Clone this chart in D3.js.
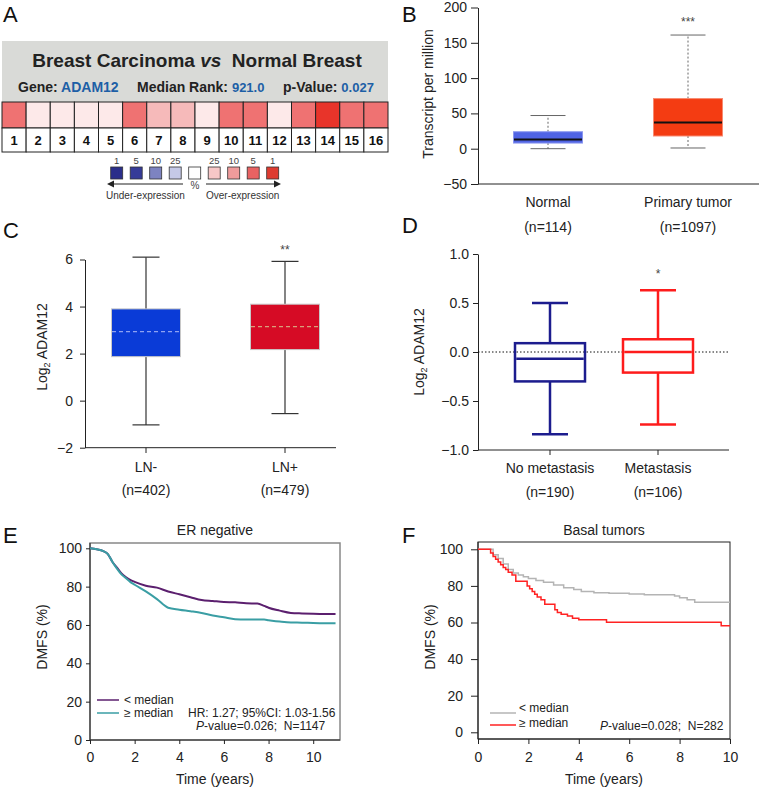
<!DOCTYPE html>
<html>
<head>
<meta charset="utf-8">
<script src="https://cdn.jsdelivr.net/npm/d3@7"></script>
<style>
  body { margin: 0; background: #fff; }
  svg text { font-family: "Liberation Sans", Arial, sans-serif; }
</style>
</head>
<body>
<script>
// ---------------- data ----------------
// A: Oncomine heat map
const heatCells = [1, 2, 3, 4, 5, 6, 7, 8, 9, 10, 11, 12, 13, 14, 15, 16];
const heatLevel = [5, 0, 0, 0, 0, 5, 25, 25, 0, 5, 5, 0, 5, 1, 5, 5];
const legendLabels = ["1", "5", "10", "25", "", "25", "10", "5", "1"];
const legendColors = ["#2a2e8a", "#363b98", "#7d83c1", "#c5c9e7", "#ffffff", "#f7c7c7", "#ef9b9b", "#e86262", "#de3b30"];

// B: UALCAN box plot
const bGroups = ["Normal", "Primary tumor"];
const bCounts = ["(n=114)", "(n=1097)"];
const bLow = [0, 1];
const bQ1 = [8, 18];
const bMed = [13, 37];
const bQ3 = [24, 71];
const bHigh = [47, 161];
const bTicks = [-50, 0, 50, 100, 150, 200];

// C: LN status
const cGroups = ["LN-", "LN+"];
const cCounts = ["(n=402)", "(n=479)"];
const cLow = [-1.03, -0.55];
const cQ1 = [1.87, 2.17];
const cMed = [2.93, 3.15];
const cQ3 = [3.9, 4.1];
const cHigh = [6.1, 5.92];
const cTicks = [-2, 0, 2, 4, 6];

// D: metastasis
const dGroups = ["No metastasis", "Metastasis"];
const dCounts = ["(n=190)", "(n=106)"];
const dLow = [-0.84, -0.74];
const dQ1 = [-0.3, -0.21];
const dMed = [-0.07, 0.0];
const dQ3 = [0.09, 0.13];
const dHigh = [0.5, 0.63];
const dTicks = [-1, -0.5, 0, 0.5, 1];

// E: ER negative KM
const eTime = [0, 0.3, 0.6, 0.8, 1.0, 1.2, 1.4, 1.6, 1.8, 2.0, 2.5, 3.0, 3.5, 4.0, 4.5, 5.0, 5.5, 6.0, 6.5, 7.0, 7.5, 7.8, 8.0, 8.5, 9.0, 9.5, 10, 10.5, 11];
const eLowSurv = [100, 99.5, 98.5, 97, 93, 90, 87, 85, 83.5, 82.5, 80.5, 79.5, 77.5, 76, 74.5, 73, 72.5, 72, 71.8, 71.3, 71.2, 70, 69, 67.5, 66.3, 66, 65.8, 65.7, 65.7];
const eHighSurv = [100, 99.5, 98.5, 97, 93, 89.5, 86.5, 84.5, 82.5, 81, 77.5, 73.5, 69, 68, 67.2, 66.3, 65, 64, 63, 62.8, 62.8, 62.8, 62.5, 61.8, 61.3, 61.2, 61, 60.9, 60.9];
const kmTicksY = [0, 20, 40, 60, 80, 100];
const kmTicksX = [0, 2, 4, 6, 8, 10];

// F: basal tumors KM
const fLowTime = [0, 0.6, 0.8, 1.0, 1.2, 1.4, 1.6, 1.8, 2.0, 2.3, 2.6, 3.0, 3.4, 3.8, 4.1, 4.6, 5.2, 6.0, 6.6, 7.8, 8.0, 8.3, 8.6, 10];
const fLowSurv = [100, 97, 95, 92, 89, 87, 86, 85, 84, 83, 82, 80.5, 79, 78, 77, 76.3, 76, 75.6, 75.2, 74.5, 73.5, 72.5, 71, 71];
const fHighTime = [0, 0.5, 0.6, 0.7, 0.8, 0.9, 1.0, 1.1, 1.2, 1.35, 1.5, 1.95, 2.05, 2.15, 2.25, 2.35, 2.5, 2.65, 3.05, 3.15, 3.3, 3.55, 3.75, 4.0, 5.1, 9.65, 10];
const fHighSurv = [100, 98, 96, 94.5, 93, 91.5, 90, 89, 87.5, 86, 82.5, 80, 78.5, 77, 75.5, 74, 72.5, 70, 67, 65.5, 64.5, 63.5, 62.3, 61.5, 60.2, 58.2, 58.2];

// ---------------- svg ----------------
const svg = d3.select("body").append("svg")
    .attr("width", 762)
    .attr("height", 791);

function txt(g, x, y, s, size, anchor) {
    return g.append("text")
        .attr("x", x).attr("y", y)
        .attr("font-size", size)
        .attr("text-anchor", anchor || "start")
        .attr("fill", "#222")
        .style("white-space", "pre")
        .text(s);
}

// panel letters
[["A", 3, 22], ["B", 402, 22], ["C", 3, 238], ["D", 402, 233], ["E", 3, 543], ["F", 402, 543]]
    .forEach(p => txt(svg, p[1], p[2], p[0], 22).attr("fill", "#111"));

// ---------------- Panel A ----------------
const gA = svg.append("g");
gA.append("rect").attr("x", 2).attr("y", 41).attr("width", 386).attr("height", 61).attr("fill", "#d9dad7");

const title = txt(gA, 197, 67, "", 19, "middle").attr("font-weight", "bold");
title.append("tspan").text("Breast Carcinoma ");
title.append("tspan").attr("font-style", "italic").text("vs");
title.append("tspan").text("  Normal Breast");

function subItem(x, label, value) {
    const t = txt(gA, x, 92, "", 14).attr("font-weight", "bold");
    t.append("tspan").text(label);
    t.append("tspan").attr("fill", "#1d5fa6").attr("font-size", value.size).text(value.s);
}
subItem(18, "Gene: ", {s: "ADAM12", size: 14});
subItem(137, "Median Rank: ", {s: "921.0", size: 13});
subItem(283, "p-Value: ", {s: "0.027", size: 13});

const heatColor = d3.scaleOrdinal().domain([1, 5, 25, 0]).range(["#e8342a", "#ef7272", "#f6baba", "#fde9e9"]);
const xA = d3.scaleBand().domain(heatCells).range([2, 388]);

gA.selectAll(".heat").data(heatCells).join("rect")
    .attr("class", "heat")
    .attr("x", d => xA(d)).attr("y", 102)
    .attr("width", xA.bandwidth()).attr("height", 26)
    .attr("fill", (d, i) => heatColor(heatLevel[i]))
    .attr("stroke", "#222").attr("stroke-width", 1);
gA.selectAll(".num").data(heatCells).join("rect")
    .attr("class", "num")
    .attr("x", d => xA(d)).attr("y", 128)
    .attr("width", xA.bandwidth()).attr("height", 24)
    .attr("fill", "#fff")
    .attr("stroke", "#222").attr("stroke-width", 1);
gA.selectAll(".numtxt").data(heatCells).join("text")
    .attr("x", d => xA(d) + xA.bandwidth() / 2).attr("y", 145)
    .attr("text-anchor", "middle").attr("font-size", 13).attr("font-weight", "bold")
    .attr("fill", "#111")
    .text(d => d);

// legend
const xLeg = d3.scalePoint().domain(d3.range(legendColors.length)).range([110.7, 266.7]);
gA.selectAll(".leg").data(legendColors).join("rect")
    .attr("x", (d, i) => xLeg(i)).attr("y", 167)
    .attr("width", 12).attr("height", 12)
    .attr("fill", d => d).attr("stroke", "#333").attr("stroke-width", 0.8);
gA.selectAll(".legtxt").data(legendLabels).join("text")
    .attr("x", (d, i) => xLeg(i) + 6).attr("y", 164)
    .attr("text-anchor", "middle").attr("font-size", 9.5).attr("fill", "#444")
    .text(d => d);
gA.append("line").attr("x1", 183).attr("x2", 112).attr("y1", 184).attr("y2", 184).attr("stroke", "#222").attr("stroke-width", 1.2);
gA.append("path").attr("d", "M107,184 L114,180.5 L114,187.5 Z").attr("fill", "#222");
gA.append("line").attr("x1", 206).attr("x2", 276).attr("y1", 184).attr("y2", 184).attr("stroke", "#222").attr("stroke-width", 1.2);
gA.append("path").attr("d", "M281,184 L274,180.5 L274,187.5 Z").attr("fill", "#222");
txt(gA, 195, 189, "%", 10, "middle").attr("fill", "#444");
txt(gA, 106, 199, "Under-expression", 10).attr("fill", "#333");
txt(gA, 206, 199, "Over-expression", 10).attr("fill", "#333");

// ---------------- box plot helper ----------------
function boxes(g, x, y, groups, st, o) {
    groups.forEach((grp, i) => {
        const cx = x(grp), hw = o.boxW / 2, cw = o.capW / 2;
        // whiskers
        [[st.q3[i], st.high[i]], [st.q1[i], st.low[i]]].forEach(w => {
            g.append("line").attr("x1", cx).attr("x2", cx)
                .attr("y1", y(w[0])).attr("y2", y(w[1]))
                .attr("stroke", o.whisker[i]).attr("stroke-width", o.ww)
                .attr("stroke-dasharray", o.wdash || null);
            g.append("line").attr("x1", cx - cw).attr("x2", cx + cw)
                .attr("y1", y(w[1])).attr("y2", y(w[1]))
                .attr("stroke", o.whisker[i]).attr("stroke-width", o.ww);
        });
        g.append("rect")
            .attr("x", cx - hw).attr("width", o.boxW)
            .attr("y", y(st.q3[i])).attr("height", y(st.q1[i]) - y(st.q3[i]))
            .attr("fill", o.fill[i]).attr("stroke", o.stroke[i]).attr("stroke-width", o.sw);
        g.append("line").attr("x1", cx - hw + o.sw / 2).attr("x2", cx + hw - o.sw / 2)
            .attr("y1", y(st.med[i])).attr("y2", y(st.med[i]))
            .attr("stroke", o.med[i]).attr("stroke-width", o.mw)
            .attr("stroke-dasharray", o.mdash || null);
    });
}
function styleAxis(a) {
    a.selectAll("text").attr("font-size", 14).attr("fill", "#222");
    a.selectAll("line, path").attr("stroke", "#222");
}
function groupLabels(g, x, groups, counts, y1, y2) {
    groups.forEach((grp, i) => {
        txt(g, x(grp), y1, grp, 14, "middle");
        txt(g, x(grp), y2, counts[i], 14, "middle");
    });
}
function rotTitle(g, x, y, build) {
    const t = g.append("text").attr("transform", `translate(${x},${y}) rotate(-90)`)
        .attr("text-anchor", "middle").attr("font-size", 14).attr("fill", "#222");
    build(t);
}
function log2Title(t) {
    t.append("tspan").text("Log");
    t.append("tspan").attr("font-size", 9).attr("dy", 3).text("2");
    t.append("tspan").attr("dy", -3).text(" ADAM12");
}

// ---------------- Panel B ----------------
const gB = svg.append("g");
const yB = d3.scaleLinear().domain([-50, 200]).range([184, 7.5]);
const xB = d3.scalePoint().domain(bGroups).range([548, 688]);
gB.append("g").attr("transform", "translate(478,0)")
    .call(d3.axisLeft(yB).tickValues(bTicks).tickSize(7).tickSizeOuter(0).tickPadding(4))
    .call(styleAxis);
gB.append("line").attr("x1", 478).attr("x2", 759).attr("y1", 184).attr("y2", 184).attr("stroke", "#222");
boxes(gB, xB, yB, bGroups, {low: bLow, q1: bQ1, med: bMed, q3: bQ3, high: bHigh}, {
    boxW: 69, capW: 35, fill: ["#5064e4", "#f43c12"], stroke: ["#8a96ee", "#f88a70"], sw: 1,
    whisker: ["#666", "#666"], ww: 1, wdash: "2,2", med: ["#111", "#111"], mw: 2
});
rotTitle(gB, 433, 94, t => t.text("Transcript per million"));
groupLabels(gB, xB, bGroups, bCounts, 207, 232);
txt(gB, xB("Primary tumor"), 26, "***", 12, "middle").attr("fill", "#444");

// ---------------- Panel C ----------------
const gC = svg.append("g");
const yC = d3.scaleLinear().domain([-2, 6]).range([447.7, 259.5]);
const xC = d3.scalePoint().domain(cGroups).range([146, 285]);
gC.append("g").attr("transform", "translate(85,0)")
    .call(d3.axisLeft(yC).tickValues(cTicks).tickSize(5).tickSizeOuter(0).tickPadding(7))
    .call(styleAxis);
gC.append("line").attr("x1", 85).attr("x2", 336).attr("y1", 447.7).attr("y2", 447.7).attr("stroke", "#222");
gC.selectAll(".xt").data(cGroups).join("line")
    .attr("x1", d => xC(d)).attr("x2", d => xC(d)).attr("y1", 447.7).attr("y2", 453).attr("stroke", "#222");
boxes(gC, xC, yC, cGroups, {low: cLow, q1: cQ1, med: cMed, q3: cQ3, high: cHigh}, {
    boxW: 69, capW: 27, fill: ["#0a3bd7", "#d60b25"], stroke: ["#c8c8c8", "#c8c8c8"], sw: 1,
    whisker: ["#333", "#333"], ww: 1.2, med: ["#8ea2f2", "#d9a07a"], mw: 1.3, mdash: "4,3"
});
rotTitle(gC, 47, 347, log2Title);
groupLabels(gC, xC, cGroups, cCounts, 472, 495);
txt(gC, xC("LN+"), 254, "**", 12, "middle").attr("fill", "#444");

// ---------------- Panel D ----------------
const gD = svg.append("g");
const yD = d3.scaleLinear().domain([-1, 1]).range([450, 254]);
const xD = d3.scalePoint().domain(dGroups).range([550, 658]);
gD.append("g").attr("transform", "translate(478,0)")
    .call(d3.axisLeft(yD).tickValues(dTicks).tickFormat(d3.format(".1f")).tickSize(5).tickSizeOuter(0).tickPadding(4))
    .call(styleAxis);
gD.append("line").attr("x1", 478).attr("x2", 729).attr("y1", 450).attr("y2", 450).attr("stroke", "#222");
gD.selectAll(".xt").data(dGroups).join("line")
    .attr("x1", d => xD(d)).attr("x2", d => xD(d)).attr("y1", 450).attr("y2", 455).attr("stroke", "#222");
gD.append("line").attr("x1", 478).attr("x2", 729).attr("y1", yD(0)).attr("y2", yD(0))
    .attr("stroke", "#111").attr("stroke-dasharray", "1.5,2");
boxes(gD, xD, yD, dGroups, {low: dLow, q1: dQ1, med: dMed, q3: dQ3, high: dHigh}, {
    boxW: 70, capW: 36, fill: ["none", "none"], stroke: ["#1c1c8e", "#fe1c1c"], sw: 2.5,
    whisker: ["#1c1c8e", "#fe1c1c"], ww: 2.5, med: ["#1c1c8e", "#fe1c1c"], mw: 2.5
});
rotTitle(gD, 424, 352, log2Title);
groupLabels(gD, xD, dGroups, dCounts, 473, 497);
txt(gD, xD("Metastasis"), 278, "*", 12, "middle").attr("fill", "#444");

// ---------------- KM helper ----------------
function kmPanel(o) {
    const g = svg.append("g");
    g.append("rect").attr("x", o.x0).attr("y", o.top).attr("width", o.x1 - o.x0).attr("height", o.bottom - o.top)
        .attr("fill", "none").attr("stroke", o.frame).attr("stroke-width", o.frameW);
    g.append("g").attr("transform", `translate(${o.x0},0)`)
        .call(d3.axisLeft(o.y).tickValues(kmTicksY).tickSize(o.yTick).tickSizeOuter(0).tickPadding(o.yPad))
        .call(styleAxis)
        .select(".domain").remove();
    g.append("g").attr("transform", `translate(0,${o.bottom})`)
        .call(d3.axisBottom(o.x).tickValues(kmTicksX).tickSize(o.xTick).tickSizeOuter(0).tickPadding(8))
        .call(styleAxis)
        .select(".domain").remove();
    g.append("line").attr("x1", o.x0).attr("x2", o.x0).attr("y1", o.top).attr("y2", o.bottom).attr("stroke", "#222");
    g.append("line").attr("x1", o.x0).attr("x2", o.x1).attr("y1", o.bottom).attr("y2", o.bottom).attr("stroke", "#222");
    txt(g, (o.x0 + o.x1) / 2, 535, o.title, 14, "middle");
    txt(g, (o.x0 + o.x1) / 2, 784, "Time (years)", 14, "middle");
    rotTitle(g, o.x0 - 43, 637, t => t.text("DMFS (%)"));
    o.curves.forEach(c => {
        const line = d3.line().x(d => o.x(d[0])).y(d => o.y(d[1])).curve(o.curve);
        g.append("path").datum(d3.zip(c.t, c.s))
            .attr("d", line).attr("fill", "none")
            .attr("stroke", c.color).attr("stroke-width", c.w);
    });
    return g;
}

// ---------------- Panel E ----------------
const xE = d3.scaleLinear().domain([0, 11.2]).range([90, 340]);
const yE = d3.scaleLinear().domain([0, 100]).range([740, 548.3]);
const gE = kmPanel({
    x: xE, y: yE, x0: 90, x1: 340, top: 543, bottom: 740, frame: "#888", frameW: 1.5,
    yTick: 4, yPad: 4, xTick: 4, title: "ER negative", curve: d3.curveMonotoneX,
    curves: [
        {t: eTime, s: eLowSurv, color: "#5b1f6e", w: 2},
        {t: eTime, s: eHighSurv, color: "#3a9ea4", w: 2}
    ]
});
gE.append("line").attr("x1", 97).attr("x2", 119).attr("y1", 700).attr("y2", 700).attr("stroke", "#5b1f6e").attr("stroke-width", 1.5);
gE.append("line").attr("x1", 97).attr("x2", 119).attr("y1", 713).attr("y2", 713).attr("stroke", "#3a9ea4").attr("stroke-width", 1.5);
txt(gE, 124, 704, "< median", 12);
txt(gE, 124, 717, "≥ median", 12);
txt(gE, 188, 717, "HR: 1.27; 95%CI: 1.03-1.56", 12);
const pE = txt(gE, 196, 730, "", 12);
pE.append("tspan").attr("font-style", "italic").text("P");
pE.append("tspan").text("-value=0.026;  N=1147");

// ---------------- Panel F ----------------
const xF = d3.scaleLinear().domain([0, 10]).range([478, 730]);
const yF = d3.scaleLinear().domain([0, 100]).range([732.3, 549.3]);
const gF = kmPanel({
    x: xF, y: yF, x0: 478, x1: 730, top: 542, bottom: 739, frame: "#222", frameW: 1,
    yTick: 7, yPad: 8, xTick: 5, title: "Basal tumors", curve: d3.curveStepAfter,
    curves: [
        {t: fLowTime, s: fLowSurv, color: "#b4b4b4", w: 1.5},
        {t: fHighTime, s: fHighSurv, color: "#ff2222", w: 1.5}
    ]
});
gF.append("line").attr("x1", 490).attr("x2", 516).attr("y1", 713).attr("y2", 713).attr("stroke", "#b4b4b4").attr("stroke-width", 1.5);
gF.append("line").attr("x1", 490).attr("x2", 516).attr("y1", 725).attr("y2", 725).attr("stroke", "#ff2222").attr("stroke-width", 1.5);
txt(gF, 519, 712, "< median", 12);
txt(gF, 519, 727, "≥ median", 12);
const pF = txt(gF, 600, 730, "", 12);
pF.append("tspan").attr("font-style", "italic").text("P");
pF.append("tspan").text("-value=0.028;  N=282");
</script>
</body>
</html>
